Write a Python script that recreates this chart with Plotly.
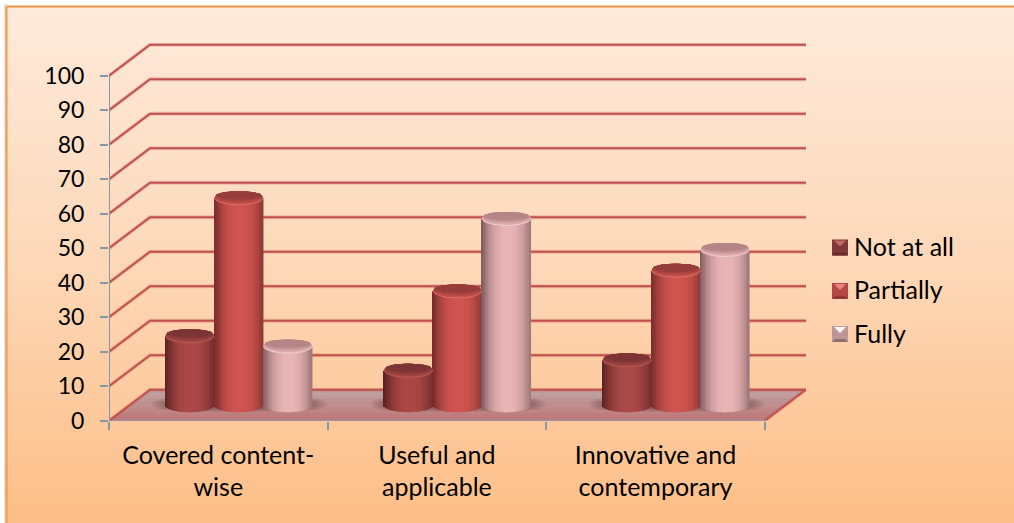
import numpy as np
import plotly.graph_objects as go

W, H = 1014, 523
categories = ["Covered content-<br>wise", "Useful and<br>applicable", "Innovative and<br>contemporary"]
not_at_all = [20, 10, 13]
partially = [60, 33, 39]
fully = [17, 54, 45]
y_ticks = list(range(0, 101, 10))
series_names = ["Not at all", "Partially", "Fully"]

FONT = "Lato"
FS_TEXT = 25
FS_NUM = 23
# pixel geometry of the plotting box
X0, X1, Y0, Y1 = 109.0, 806.0, 420.7, 43.0
CAT_PX, UNIT_PX = 218.6, 3.45
DX = 41 / CAT_PX      # depth shift along category axis
DY = 31 / UNIT_PX     # depth shift along value axis
XMAX = 0.5 + (X1 - X0) / CAT_PX
YMAX = (Y0 - Y1) / UNIT_PX
RIGHT_FRONT = 3.5
CYL_W = 49.0 / CAT_PX
CAP_B = 7.0 / UNIT_PX


def lerp(a, b, t):
    return tuple(a[i] + (b[i] - a[i]) * t for i in range(3))


def css(c):
    return "rgb(%d,%d,%d)" % tuple(round(v) for v in c)


fig = go.Figure()

# background gradient
fig.add_trace(go.Heatmap(z=[[1, 1], [0.5, 0.5], [0, 0]], x=[0, 1], y=[0, 0.5, 1], zsmooth="best",
                         zmin=0, zmax=1, showscale=False, hoverinfo="skip",
                         colorscale=[[0, "rgb(254,234,219)"], [0.5, "rgb(253,216,184)"], [1, "rgb(253,190,135)"]],
                         xaxis="x", yaxis="y"))


def wall(**kw):
    fig.add_trace(go.Scatter(xaxis="x2", yaxis="y2", hoverinfo="skip", showlegend=False, **kw))


# floor in graded bands
n_band = 14
back_c, front_c = (190, 166, 166), (190, 118, 122)
for i in range(n_band):
    a, b = i / n_band, (i + 1) / n_band
    xs = [0.5 + DX * a, RIGHT_FRONT + DX * a, RIGHT_FRONT + DX * b, 0.5 + DX * b]
    ys = [DY * a, DY * a, DY * b, DY * b]
    wall(x=xs, y=ys, mode="lines", fill="toself", line=dict(width=0.6, color=css(lerp(front_c, back_c, a))),
         fillcolor=css(lerp(front_c, back_c, a)))

# wall grid lines (with a soft halo)
gx, gy = [], []
for v in y_ticks:
    gx += [0.5, 0.5 + DX, XMAX, None]
    gy += [v, v + DY, v + DY, None]
gx += [RIGHT_FRONT, RIGHT_FRONT + DX, None]
gy += [0, DY, None]
wall(x=gx, y=gy, mode="lines", line=dict(color="rgba(192,80,77,0.25)", width=4))
wall(x=gx, y=gy, mode="lines", line=dict(color="rgb(192,80,77)", width=2))

# shadows on the floor
for c in range(3):
    cx = c + 1 + DX / 2 + 0.003
    for k in range(10):
        rx = (CYL_W * 1.78) * (1 - k * 0.03)
        ry = (8.0 / UNIT_PX) * (1 - k * 0.08)
        t = np.linspace(0, 2 * np.pi, 60)
        e = 2 / 3.4
        wall(x=cx + rx * np.sign(np.cos(t)) * np.abs(np.cos(t)) ** e,
             y=DY / 2 + 0.3 + ry * np.sign(np.sin(t)) * np.abs(np.sin(t)) ** e,
             mode="lines", fill="toself", line=dict(width=0), fillcolor="rgba(70,40,40,0.07)")

# front axis lines
axis_color = "rgb(134,150,165)"
wall(x=[0.5, 0.5, None, 0.5, RIGHT_FRONT], y=[0, 100, None, 0, 0], mode="lines",
     line=dict(color=axis_color, width=2))

# cylinders
styles = [
    dict(edge=(100, 38, 38), mid=(170, 72, 70), cap_top=(125, 52, 52), cap_low=(165, 72, 68), rim=(190, 95, 88)),
    dict(edge=(128, 48, 46), mid=(208, 84, 80), cap_top=(150, 60, 58), cap_low=(198, 82, 76), rim=(228, 118, 106)),
    dict(edge=(140, 102, 104), mid=(232, 180, 182), cap_top=(180, 132, 134), cap_low=(225, 178, 180), rim=(242, 212, 212)),
]
values = [not_at_all, partially, fully]
N = 30
u = (np.arange(N) + 0.5) / N * 2 - 1
for s, vals in enumerate(values):
    st = styles[s]
    off = (s - 1) * CYL_W
    bx, by, bbase, bw, bcol = [], [], [], [], []
    for c, v in enumerate(vals):
        cx = c + 1 + DX / 2 + off
        base0 = DY / 2
        top0 = base0 + v
        for ui in u:
            lift = CAP_B * np.sqrt(max(0, 1 - ui * ui))
            bx.append(cx + ui * CYL_W / 2)
            b = base0 - lift
            bbase.append(b)
            by.append(top0 - b)
            bw.append(CYL_W / N * 1.2)
            bcol.append(css(lerp(st["mid"], st["edge"], abs(ui - 0.08) ** 2.4)))
    fig.add_trace(go.Bar(x=bx, y=by, base=bbase, width=bw, marker=dict(color=bcol, line=dict(width=0)),
                         xaxis="x3", yaxis="y3", showlegend=False, hoverinfo="skip"))
    t = np.linspace(0, 2 * np.pi, 61)
    layers = [(0.0, st["rim"])]
    n_cap = 8
    for k in range(n_cap):
        f = k / (n_cap - 1)
        layers.append((0.8 + 5.5 * f, lerp(st["cap_low"], st["cap_top"], f)))
    for shrink_px, col in layers:
        # each layer keeps the top edge of the cap and lifts its lower edge by shrink_px
        b_u = CAP_B - shrink_px / UNIT_PX / 2
        lift_u = shrink_px / UNIT_PX / 2
        xs, ys = [], []
        for c, v in enumerate(vals):
            cx = c + 1 + DX / 2 + off
            xs += list(cx + CYL_W / 2 * (1 - shrink_px * 0.012) * np.cos(t)) + [None]
            ys += list(DY / 2 + v + lift_u + b_u * np.sin(t)) + [None]
        fig.add_trace(go.Scatter(x=xs, y=ys, xaxis="x3", yaxis="y3", mode="lines", fill="toself",
                                 line=dict(width=0), fillcolor=css(col), showlegend=False, hoverinfo="skip"))

# legend entries
for s, name in enumerate(series_names):
    fig.add_trace(go.Scatter(x=[None], y=[None], xaxis="x2", yaxis="y2", mode="markers", name=name,
                             legendgroup=name, marker=dict(symbol="square", size=14, color="rgba(0,0,0,0)")))


def px(v):
    return v / W


def py(v):
    return 1 - v / H


def poly(pts):
    return "M " + " L ".join(f"{x:.4f},{y:.4f}" for x, y in [(px(a), py(b)) for a, b in pts]) + " Z"


shapes = [
    dict(type="rect", xref="paper", yref="paper", layer="below", x0=px(4), x1=px(7), y0=0, y1=py(4),
         fillcolor="rgb(225,225,225)", line=dict(width=0)),
    dict(type="line", xref="paper", yref="paper", x0=px(6.5), x1=px(6.5), y0=0, y1=py(6.5),
         line=dict(color="rgb(247,150,70)", width=2)),
    dict(type="line", xref="paper", yref="paper", x0=px(6.5), x1=1, y0=py(6.5), y1=py(6.5),
         line=dict(color="rgb(247,150,70)", width=2)),
]
# bevelled legend swatches
sw = [((130, 56, 56), (195, 105, 100), (105, 44, 44)),
      ((180, 70, 68), (238, 130, 125), (145, 54, 54)),
      ((190, 150, 152), (255, 250, 250), (145, 110, 115))]
for (yc, (body, hi, lo)) in zip((247.5, 291, 334), sw):
    l, r, t_, b_ = 832, 848, yc - 8, yc + 8
    shapes.append(dict(type="path", xref="paper", yref="paper", path=poly([(l, t_), (r, t_), (r, b_), (l, b_)]),
                       fillcolor=css(body), line=dict(width=0)))
    shapes.append(dict(type="path", xref="paper", yref="paper",
                       path=poly([(l, b_), (r, b_), (r - 3, b_ - 3), (l + 3, b_ - 3)]),
                       fillcolor=css(lo), line=dict(width=0)))
    shapes.append(dict(type="path", xref="paper", yref="paper",
                       path=poly([(l + 2, t_ + 1), (r - 2, t_ + 1), ((l + r) / 2, t_ + 7)]),
                       fillcolor=css(hi), line=dict(width=0)))

xdom = [X0 / W, X1 / W]
ydom = [1 - Y0 / H, 1 - Y1 / H]
text_font = dict(family=FONT, size=FS_TEXT, color="rgb(0,0,0)")
num_font = dict(family=FONT, size=FS_NUM, color="rgb(0,0,0)")
fig.update_layout(
    width=W, height=H, margin=dict(l=0, r=0, t=0, b=0, autoexpand=False), paper_bgcolor="white",
    plot_bgcolor="rgba(0,0,0,0)", barmode="overlay", font=text_font, shapes=shapes,
    xaxis=dict(domain=[7 / W, 1], range=[0, 1], visible=False, fixedrange=True),
    yaxis=dict(domain=[0, 1 - 7 / H], range=[0, 1], visible=False, fixedrange=True),
    xaxis2=dict(domain=xdom, range=[0.5, XMAX], anchor="y2", showgrid=False, zeroline=False,
                tickmode="array", tickvals=[1, 2, 3], ticktext=categories,
                tickfont=text_font, ticks="", ticklabelstandoff=17,
                minor=dict(tickmode="array", tickvals=[0.5, 1.5, 2.5, 3.5], ticks="outside", ticklen=8,
                           tickwidth=2, tickcolor=axis_color, showgrid=False)),
    yaxis2=dict(domain=ydom, range=[0, YMAX], anchor="x2", showgrid=False, zeroline=False,
                tickmode="array", tickvals=y_ticks, ticks="outside", ticklen=8, tickwidth=2,
                tickcolor=axis_color, tickfont=num_font, ticklabelstandoff=11),
    xaxis3=dict(domain=xdom, range=[0.5, XMAX], anchor="y3", visible=False),
    yaxis3=dict(domain=ydom, range=[0, YMAX], anchor="x3", visible=False),
    legend=dict(x=814 / W, y=py(223), xanchor="left", yanchor="top", bgcolor="rgba(0,0,0,0)",
                tracegroupgap=8, font=text_font, itemclick=False, itemdoubleclick=False),
    showlegend=True,
)
fig.write_html("out.html", config=dict(displayModeBar=False),
               post_script="document.body.style.margin='0';")
